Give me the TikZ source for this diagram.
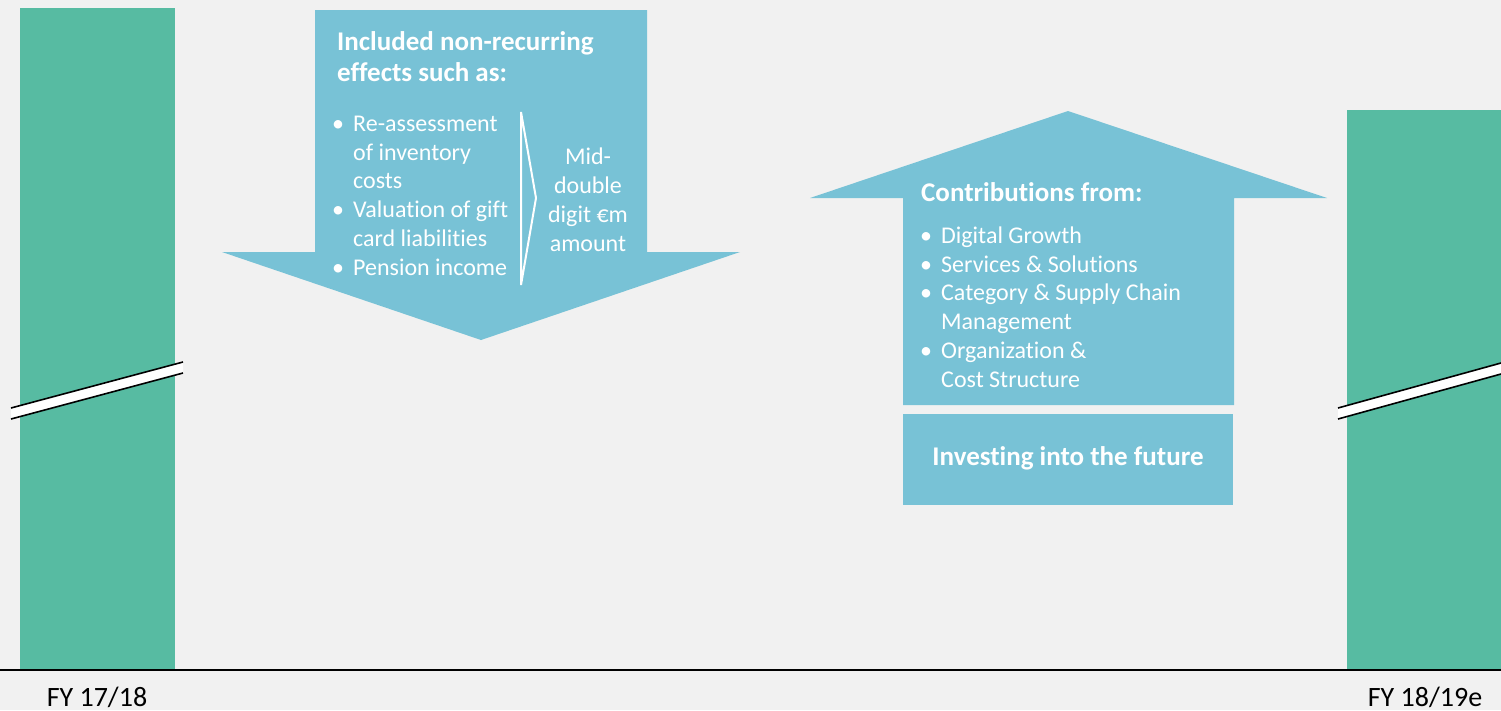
\documentclass[tikz,border=0pt]{standalone}
\usepackage{fontspec}
\setmainfont{Carlito}[Ligatures=NoCommon]
\definecolor{canvas}{HTML}{F1F1F1}
\definecolor{bar}{HTML}{57BBA2}
\definecolor{sky}{HTML}{78C2D6}
\newcommand{\bul}{\makebox[21pt][l]{\textbullet}}
\newcommand{\ind}{\hspace*{21pt}}

\begin{document}
\begin{tikzpicture}[x=1pt,y=-1pt,text=white,inner sep=0pt,
  body/.style={font=\fontsize{24}{28.7}\selectfont,align=left},
  head/.style={font=\fontsize{27}{31}\selectfont\bfseries,align=left}]
  \fill[canvas] (0,0) rectangle (1501,710);
  \useasboundingbox (0,0) rectangle (1501,710);
  % the two bars
  \fill[bar] (20,8) rectangle (175,670);
  \fill[bar] (1347,110) rectangle (1501,670);
  % axis breaks
  \fill[white] (11,408) -- (183,362) -- (183,373) -- (11,419) -- cycle;
  \draw[line width=1.6] (11,408) -- (183,362) (11,419) -- (183,373);
  \fill[white] (1338,408) -- (1501,363) -- (1501,374) -- (1338,419) -- cycle;
  \draw[line width=1.6] (1338,408) -- (1501,363) (1338,419) -- (1501,374);
  \draw[line width=1.6] (0,670) -- (1501,670);
  % downward arrow (base anchors sit on the last line)
  \fill[sky] (315,10) -- (647,10) -- (647,252) -- (740,252) -- (481,340) -- (222,252) -- (315,252) -- cycle;
  \draw[white,line width=2] (521,112) -- (536,198) -- (521,285) -- cycle;
  \node[head,anchor=base west] (hdrDown) at (337,81) {Included non-recurring\\effects such as:};
  \node[body,anchor=base west] (listDown) at (332,275) {\bul Re-assessment\\\ind of inventory\\\ind costs\\\bul Valuation of gift\\\ind card liabilities\\\bul Pension income};
  \node[body,align=center,anchor=base] (amount) at (588,251) {Mid-\\double\\digit €m\\amount};
  % upward arrow
  \fill[sky] (903,405) -- (903,198) -- (810,198) -- (1068,111) -- (1327,198) -- (1234,198) -- (1234,405) -- cycle;
  \fill[sky] (903,414) rectangle (1233,505);
  \node[head,anchor=base west] (hdrUp) at (921,201) {Contributions from:};
  \node[body,anchor=base west] (listUp) at (920,387) {\bul Digital Growth\\\bul Services \& Solutions\\\bul Category \& Supply Chain\\\ind Management\\\bul Organization \&\\\ind Cost Structure};
  \node[head,anchor=base] (invest) at (1068,465) {Investing into the future};
  % axis labels
  \node[font=\fontsize{28}{33}\selectfont,text=black,anchor=base] (lblA) at (97,706) {FY 17/18};
  \node[font=\fontsize{28}{33}\selectfont,text=black,anchor=base] (lblB) at (1425,706) {FY 18/19e};
\end{tikzpicture}
\end{document}
